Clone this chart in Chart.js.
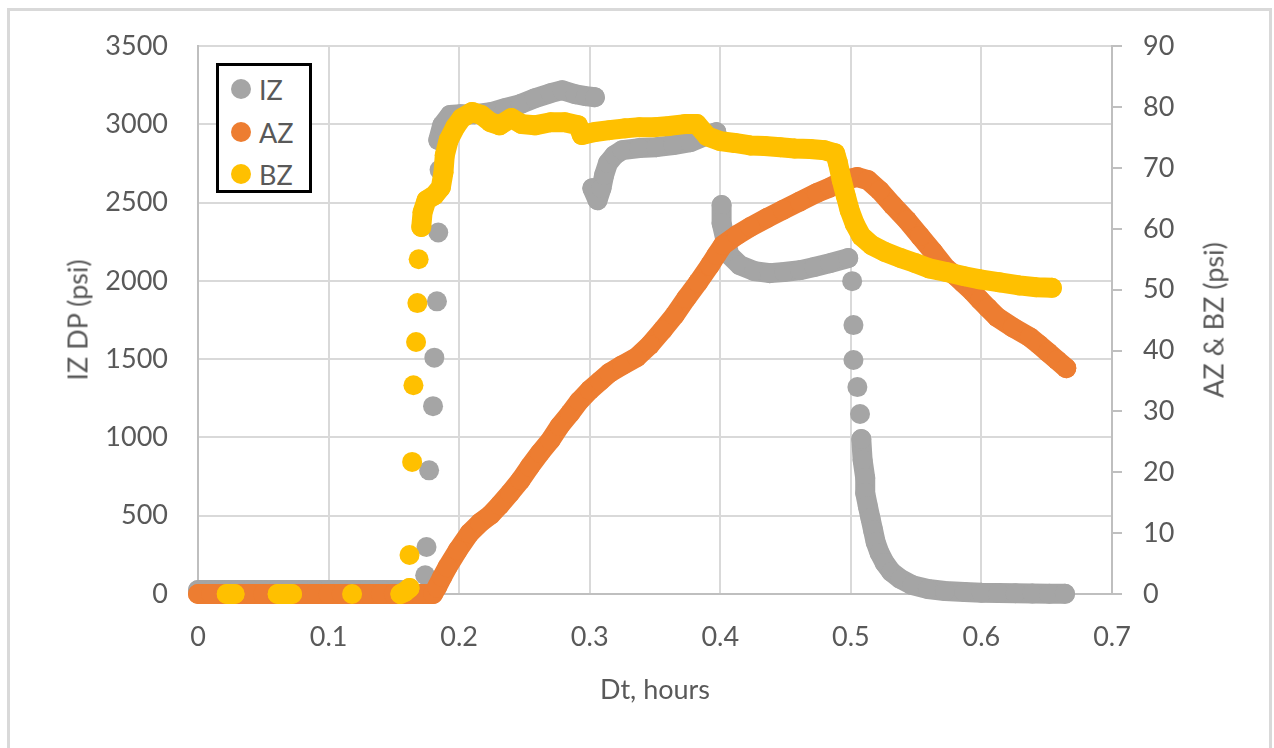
<!DOCTYPE html>
<html>
<head>
<meta charset="utf-8">
<script src="https://cdn.jsdelivr.net/npm/chart.js@4.4.1/dist/chart.umd.min.js"></script>
<style>
  html, body { margin: 0; padding: 0; background: #fff; overflow: hidden; }
  #wrap { position: relative; width: 1274px; height: 748px; }
  #frame { position: absolute; left: 7px; top: 8px; width: 1265px; height: 800px; border: 3px solid #d9d9d9; box-sizing: border-box; }
  #chart { position: absolute; left: 0; top: 0; }
  .lbl { position: absolute; font-family: Lato, sans-serif; font-size: 27px; color: #595959; white-space: nowrap; transform: translate(-50%, -50%); }
  .rot { transform: translate(-50%, -50%) rotate(-90deg); }
  #legend { position: absolute; left: 216px; top: 63px; width: 96px; height: 130px; border: 3px solid #000; box-sizing: border-box; background: #fff; }
  .item { position: absolute; left: 0; height: 30px; }
  .dot { position: absolute; left: 12px; top: 5px; width: 20px; height: 20px; border-radius: 50%; }
  .txt { position: absolute; left: 40px; top: 15px; transform: translateY(-50%); font-family: Lato, sans-serif; font-size: 27px; color: #595959; }
</style>
</head>
<body>
<div id="wrap">
  <div id="frame"></div>
  <canvas id="chart" width="1274" height="748"></canvas>
  <div class="lbl rot" style="left:77px; top:320px;">IZ DP (psi)</div>
  <div class="lbl rot" style="left:1213px; top:320px;">AZ &amp; BZ (psi)</div>
  <div class="lbl" style="left:655px; top:688px;">Dt, hours</div>
  <div id="legend"></div>
</div>
<script>
// IZ differential pressure (left axis, psi)
const izX = [0, 0.01, 0.02, 0.03, 0.04, 0.05, 0.06, 0.07, 0.08, 0.09, 0.10, 0.11, 0.12, 0.13, 0.14, 0.15, 0.155,
    0.174, 0.175, 0.177, 0.180, 0.181, 0.183, 0.184, 0.185,
    0.184, 0.187, 0.193, 0.201, 0.212, 0.224, 0.235, 0.247, 0.258, 0.270, 0.279, 0.289, 0.297, 0.304,
    0.302, 0.306, 0.309, 0.311, 0.314, 0.319, 0.325, 0.338, 0.351, 0.364, 0.377, 0.388, 0.397,
    0.401, 0.401, 0.404, 0.407, 0.415, 0.426, 0.438, 0.449, 0.461, 0.472, 0.484, 0.498,
    0.501, 0.502, 0.502, 0.505, 0.507, 0.508, 0.509, 0.511, 0.511, 0.513, 0.515, 0.517, 0.519, 0.522,
    0.526, 0.531, 0.538, 0.547, 0.559, 0.572, 0.587, 0.600, 0.613, 0.626, 0.639, 0.652, 0.664];
const izY = [25, 25, 25, 25, 25, 25, 25, 25, 25, 25, 25, 25, 25, 25, 25, 25, 25,
    120, 300, 790, 1200, 1510, 1870, 2310, 2710,
    2900, 2995, 3060, 3066, 3066, 3078, 3104, 3130, 3168, 3200, 3219, 3193, 3181, 3174,
    2593, 2516, 2593, 2676, 2753, 2804, 2836, 2849, 2855, 2868, 2887, 2925, 2951,
    2485, 2370, 2261, 2165, 2101, 2063, 2050, 2057, 2069, 2089, 2114, 2146,
    1999, 1718, 1495, 1322, 1150, 990, 856, 741, 645, 562, 485, 409, 332, 262,
    198, 141, 96, 57, 32, 19, 13, 8, 6, 5, 3, 2, 1];

// AZ pressure (right axis, psi)
const azX = [0, 0.01, 0.02, 0.03, 0.04, 0.05, 0.06, 0.07, 0.08, 0.09, 0.10, 0.11, 0.12, 0.13, 0.14, 0.15, 0.16, 0.17, 0.18,
    0.183, 0.187, 0.191, 0.199, 0.208, 0.216, 0.224, 0.231, 0.239, 0.247, 0.254, 0.262, 0.270, 0.277, 0.285,
    0.292, 0.300, 0.308, 0.315, 0.325, 0.336, 0.346, 0.356, 0.365, 0.374, 0.383, 0.392, 0.397, 0.402, 0.413,
    0.423, 0.436, 0.448, 0.461, 0.474, 0.484, 0.495, 0.505, 0.513, 0.522, 0.532, 0.543, 0.553, 0.563, 0.573,
    0.580, 0.586, 0.593, 0.599, 0.605, 0.612, 0.624, 0.637, 0.644, 0.651, 0.658, 0.665];
const azY = [0, 0, 0, 0, 0, 0, 0, 0, 0, 0, 0, 0, 0, 0, 0, 0, 0, 0, 0,
    1.1, 2.8, 4.4, 7.2, 10.0, 11.7, 13.0, 14.6, 16.6, 18.7, 20.9, 23.2, 25.3, 27.6, 29.7,
    31.7, 33.5, 35.0, 36.3, 37.6, 38.9, 40.9, 43.4, 45.8, 48.6, 51.2, 54.0, 55.7, 57.3, 59.0,
    60.3, 61.8, 63.1, 64.5, 65.9, 66.8, 68.0, 68.5, 68.0, 66.3, 63.9, 61.4, 58.8, 56.2, 53.5,
    52.3, 51.1, 49.7, 48.3, 47.0, 45.5, 43.8, 42.2, 41.0, 39.7, 38.4, 37.1];

// BZ pressure (right axis, psi)
const bzX = [0.022, 0.028, 0.061, 0.072, 0.118, 0.155, 0.158, 0.162,
    0.162, 0.164, 0.165, 0.167, 0.168, 0.169, 0.171,
    0.172, 0.175, 0.181, 0.186, 0.188, 0.189, 0.192, 0.197, 0.202, 0.210, 0.217, 0.224, 0.231, 0.240, 0.248,
    0.258, 0.270, 0.281, 0.291, 0.294, 0.304, 0.315, 0.327, 0.338, 0.350, 0.361, 0.373, 0.382, 0.390, 0.400,
    0.411, 0.423, 0.434, 0.446, 0.457, 0.469, 0.480, 0.488, 0.490, 0.493, 0.496, 0.499, 0.503, 0.508, 0.516,
    0.526, 0.538, 0.549, 0.560, 0.573, 0.587, 0.599, 0.614, 0.629, 0.642, 0.654];
const bzY = [0, 0, 0, 0, 0, 0, 0.3, 1.0,
    6.4, 21.7, 34.3, 41.4, 47.8, 55.0, 60.3,
    62.7, 64.7, 65.5, 66.8, 69.3, 72.1, 74.6, 76.7, 78.2, 79.2, 78.7, 77.5, 77.0, 78.2, 77.2,
    77.0, 77.5, 77.5, 77.0, 75.4, 75.9, 76.2, 76.5, 76.7, 76.7, 76.9, 77.2, 77.2, 75.2, 74.4,
    74.1, 73.7, 73.6, 73.4, 73.2, 73.1, 72.9, 72.4, 70.9, 68.0, 65.5, 63.1, 60.8, 58.8, 57.3,
    56.2, 55.2, 54.4, 53.5, 52.9, 52.2, 51.7, 51.2, 50.7, 50.4, 50.3];

const SERIES = [
    { label: 'IZ', xs: izX, ys: izY, color: '#a5a5a5', axis: 'y', order: 3 },
    { label: 'AZ', xs: azX, ys: azY, color: '#ed7d31', axis: 'y2', order: 2 },
    { label: 'BZ', xs: bzX, ys: bzY, color: '#ffc000', axis: 'y2', order: 1 }
];

// markers closer than this (px) merge into a solid band, like Excel's dense markers
const GAP = 23;

function makeDataset(s) {
    return {
        label: s.label,
        data: s.xs.map((x, i) => ({ x: x, y: s.ys[i] })),
        yAxisID: s.axis,
        order: s.order,
        showLine: true,
        borderColor: s.color,
        borderWidth: 20,
        borderCapStyle: 'round',
        borderJoinStyle: 'round',
        backgroundColor: s.color,
        pointBackgroundColor: s.color,
        pointBorderWidth: 0,
        pointRadius: 10,
        pointHoverRadius: 10,
        tension: 0,
        fill: false,
        clip: false,
        segment: {
            borderColor: c => Math.hypot(c.p1.x - c.p0.x, c.p1.y - c.p0.y) > GAP ? 'rgba(0,0,0,0)' : s.color
        }
    };
}

// legend box
const legend = document.getElementById('legend');
SERIES.forEach((s, i) => {
    const item = document.createElement('div');
    item.className = 'item';
    item.style.top = (8 + i * 42.5) + 'px';
    item.innerHTML = `<div class="dot" style="background:${s.color}"></div><div class="txt">${s.label}</div>`;
    legend.appendChild(item);
});

Chart.defaults.font.family = 'Lato, sans-serif';
Chart.defaults.color = '#595959';

const tickFont = { size: 27 };

new Chart(document.getElementById('chart'), {
    type: 'scatter',
    data: { datasets: SERIES.map(makeDataset) },
    options: {
        responsive: false,
        animation: false,
        events: [],
        layout: { padding: { top: 46, left: 0, right: 0, bottom: 0 } },
        plugins: { legend: { display: false }, tooltip: { enabled: false } },
        scales: {
            x: {
                type: 'linear',
                min: 0,
                max: 0.7,
                afterFit: scale => { scale.height = 154; },
                ticks: {
                    stepSize: 0.1,
                    font: tickFont,
                    color: '#595959',
                    padding: 27,
                    callback: v => v === 0 ? '0' : v.toFixed(1)
                },
                grid: { color: '#d9d9d9', lineWidth: 2, drawTicks: false },
                border: { display: true, color: '#bfbfbf', width: 2 }
            },
            y: {
                type: 'linear',
                position: 'left',
                min: 0,
                max: 3500,
                afterFit: scale => { scale.width = 198; },
                ticks: { stepSize: 500, font: tickFont, color: '#595959', padding: 30, callback: v => String(v) },
                grid: { color: '#d9d9d9', lineWidth: 2, drawTicks: false },
                border: { display: true, color: '#bfbfbf', width: 2 }
            },
            y2: {
                type: 'linear',
                position: 'right',
                min: 0,
                max: 90,
                afterFit: scale => { scale.width = 162; },
                ticks: { stepSize: 10, font: tickFont, color: '#595959', padding: 21, callback: v => String(v) },
                grid: { drawOnChartArea: false, drawTicks: true, tickLength: 10, color: '#bfbfbf', lineWidth: 2 },
                border: { display: true, color: '#bfbfbf', width: 2 }
            }
        }
    }
});
</script>
</body>
</html>
